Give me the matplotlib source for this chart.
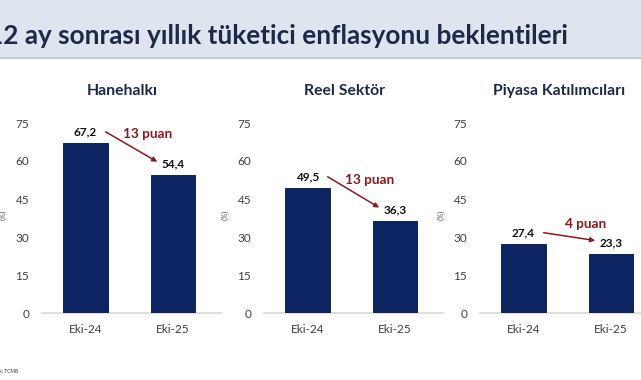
import matplotlib
matplotlib.use("Agg")
import matplotlib.pyplot as plt
from matplotlib.patches import Rectangle

plt.rcParams['font.family'] = ['Lato', 'DejaVu Sans']

title = "12 ay sonrası yıllık tüketici enflasyonu beklentileri"
panels = ["Hanehalkı", "Reel Sektör", "Piyasa Katılımcıları"]
categories = ["Eki-24", "Eki-25"]
values = [[67.2, 54.4], [49.5, 36.3], [27.4, 23.3]]
changes = ["13 puan", "13 puan", "4 puan"]
yticks = [0, 15, 30, 45, 60, 75]
source = "Kaynak: TCMB"

W, H = 641, 380
fig = plt.figure(figsize=(W / 100, H / 100), dpi=100)
fig.patch.set_facecolor("white")

# title band
fig.add_artist(Rectangle((0, 1 - 57 / H), 1, 57 / H, transform=fig.transFigure,
                         facecolor="#dfe5ee", edgecolor="none", zorder=0))
fig.add_artist(Rectangle((0, 1 - 59 / H), 1, 2 / H, transform=fig.transFigure,
                         facecolor="#c5ccd8", edgecolor="none", zorder=0))
fig.text(-12 / W, 1 - 44 / H, title, fontsize=18.8, fontweight="bold",
         color="#1c2a4a", ha="left", va="baseline")

unit = 87.5
xlim = (-0.5, 1.55)
ax_w = (xlim[1] - xlim[0]) * unit
lefts = [85.5, 307.5, 523.5]
bottom_px, top_px = 313, 123

navy = "#0c2461"
red = "#8b1a1f"
tickc = "#404040"

for i, name in enumerate(panels):
    left = lefts[i] - 0.5 * unit
    ax = fig.add_axes([left / W, (H - bottom_px) / H, ax_w / W, (bottom_px - top_px) / H])
    ax.set_facecolor("none")
    vals = values[i]
    ax.bar(range(len(categories)), vals, width=0.51, color=navy,
           edgecolor="#061538", linewidth=0.6, zorder=3)
    ax.set_xlim(*xlim)
    ax.set_ylim(0, 75)
    ax.set_yticks(yticks)
    ax.set_xticks(range(len(categories)))
    ax.set_xticklabels(categories)
    ax.tick_params(axis="both", length=0, labelsize=8.5, colors=tickc)
    ax.tick_params(axis="y", pad=9)
    ax.tick_params(axis="x", pad=8)
    for s in ["top", "right", "left"]:
        ax.spines[s].set_visible(False)
    ax.spines["bottom"].set_color("#d9d9d9")
    ax.spines["bottom"].set_linewidth(1.2)
    ax.set_title(name, fontsize=11.3, fontweight="bold", color="#1c2a4a", pad=20,
                 x=0.45 if i < 2 else 0.44)
    ax.annotate("(%)", xy=(0, 0.516), xycoords="axes fraction", xytext=(-28, 0),
                textcoords="offset points", rotation=90, fontsize=5.5,
                color="#555555", ha="center", va="center")
    for j, v in enumerate(vals):
        ax.annotate(f"{v:.1f}".replace(".", ","), xy=(j, v), xytext=(0, 4),
                    textcoords="offset points", ha="center", va="bottom",
                    fontsize=8.5, fontweight="bold", color="#111111")
    p0 = (0.23, vals[0] + 4.3)
    p1 = (0.82, vals[1] + 5.3)
    ax.annotate("", xy=p1, xytext=p0,
                arrowprops=dict(arrowstyle="-|>", color=red, lw=1.1,
                                mutation_scale=7, shrinkA=0, shrinkB=0))
    mid = ((p0[0] + p1[0]) / 2, (p0[1] + p1[1]) / 2)
    ax.annotate(changes[i], xy=mid, xytext=(12, 9), textcoords="offset points",
                ha="center", va="center", fontsize=9.8, fontweight="bold", color=red)

fig.text(-14 / W, 1 - 372 / H, source, fontsize=3.5, color="#333333",
         ha="left", va="center")

fig.savefig("out.png", dpi=100)
